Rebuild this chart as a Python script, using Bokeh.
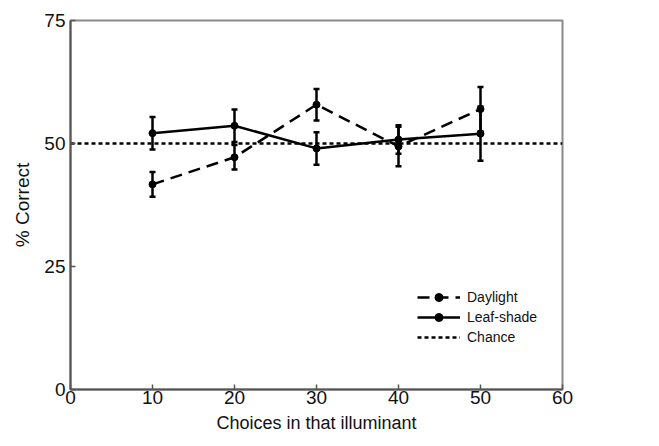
from bokeh.plotting import figure
from bokeh.models import Range1d, Whisker, TeeHead, ColumnDataSource, Legend, LegendItem, FixedTicker
from bokeh.embed import file_html
from bokeh.resources import INLINE

choices = [10, 20, 30, 40, 50]
daylight = [41.7, 47.2, 57.9, 49.4, 57.0]
daylight_err = [2.5, 2.5, 3.2, 4.0, 4.5]
leaf = [52.1, 53.6, 49.0, 50.8, 52.0]
leaf_err = [3.3, 3.3, 3.3, 2.9, 5.5]
chance_x = [0, 60]
chance_y = [50, 50]
x_ticks = [0, 10, 20, 30, 40, 50, 60]
y_ticks = [0, 25, 50, 75]

FONT = "Liberation Sans"

p = figure(width=659, height=446, output_backend="svg", toolbar_location=None,
           x_range=Range1d(0, 60), y_range=Range1d(0, 75),
           min_border_left=70, min_border_right=97, min_border_top=20, min_border_bottom=57)
p.grid.visible = False
p.outline_line_color = "#8a8a8a"
p.outline_line_width = 2

for ax in (p.xaxis[0], p.yaxis[0]):
    ax.axis_line_color = "#555555"
    ax.axis_line_width = 2
    ax.major_tick_in = 5
    ax.major_tick_out = 0
    ax.major_tick_line_color = "#555555"
    ax.major_tick_line_width = 1.5
    ax.minor_tick_line_color = None
    ax.major_label_text_font = FONT
    ax.major_label_text_font_size = "19px"
    ax.major_label_text_color = "#111111"
    ax.axis_label_text_font = FONT
    ax.axis_label_text_font_style = "normal"
    ax.axis_label_text_color = "#111111"
p.xaxis.ticker = FixedTicker(ticks=x_ticks)
p.yaxis.ticker = FixedTicker(ticks=y_ticks)
p.xaxis.axis_label = "Choices in that illuminant"
p.yaxis.axis_label = "% Correct"
p.xaxis.axis_label_text_font_size = "18px"
p.yaxis.axis_label_text_font_size = "19px"
p.xaxis.major_label_standoff = 1
p.yaxis.major_label_standoff = 5
p.xaxis.axis_label_standoff = 6
p.yaxis.axis_label_standoff = 8

src_d = ColumnDataSource(dict(x=choices, y=daylight,
                              lo=[v - e for v, e in zip(daylight, daylight_err)],
                              hi=[v + e for v, e in zip(daylight, daylight_err)]))
src_l = ColumnDataSource(dict(x=choices, y=leaf,
                              lo=[v - e for v, e in zip(leaf, leaf_err)],
                              hi=[v + e for v, e in zip(leaf, leaf_err)]))

r_chance = p.line(chance_x, chance_y, line_color="black", line_width=2.5, line_dash="4 3")

for src in (src_l, src_d):
    w = Whisker(source=src, base="x", lower="lo", upper="hi",
                line_color="black", line_width=2.5,
                upper_head=TeeHead(size=6, line_width=2.5, line_color="black"),
                lower_head=TeeHead(size=6, line_width=2.5, line_color="black"))
    p.add_layout(w)

r_dl = p.line("x", "y", source=src_d, line_color="black", line_width=2.5, line_dash="12 7")
r_dm = p.scatter("x", "y", source=src_d, size=7, color="black")
r_ll = p.line("x", "y", source=src_l, line_color="black", line_width=2.5)
r_lm = p.scatter("x", "y", source=src_l, size=7, color="black")

legend = Legend(items=[
    LegendItem(label="Daylight", renderers=[r_dl, r_dm]),
    LegendItem(label="Leaf-shade", renderers=[r_ll, r_lm]),
    LegendItem(label="Chance", renderers=[r_chance]),
], location=(347, 42), padding=0, margin=0, spacing=0,
   label_height=20, glyph_height=20, glyph_width=43, label_standoff=7,
   label_text_font=FONT, label_text_font_size="14px", label_text_color="#111111",
   border_line_color=None, background_fill_alpha=0)
p.add_layout(legend, "center")

open("out.html", "w").write(file_html(p, INLINE))
